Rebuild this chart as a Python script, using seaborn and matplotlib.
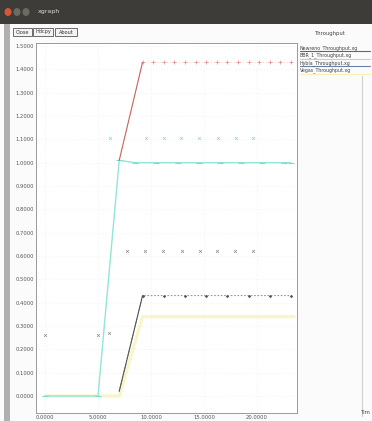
import matplotlib
matplotlib.use("Agg")
import matplotlib.pyplot as plt
from matplotlib.patches import Rectangle
import seaborn as sns

sns.set_theme(style="white")
plt.rcParams["font.family"] = ["DejaVu Sans"]

# ---- data (time in seconds, throughput) ----
newreno_t = [7.0, 9.2, 10.2, 11.2, 12.2, 13.2, 14.2, 15.2, 16.2, 17.2, 18.2, 19.2, 20.2, 21.2, 22.2, 23.2]
newreno_y = [1.01, 1.43, 1.43, 1.43, 1.43, 1.43, 1.43, 1.43, 1.43, 1.43, 1.43, 1.43, 1.43, 1.43, 1.43, 1.43]

bbr_t = [0.0, 5.0, 7.0, 8.5, 10.5, 12.5, 14.5, 16.5, 18.5, 20.5, 22.5, 23.2]
bbr_y = [0.0, 0.0, 1.01, 1.0, 1.0, 1.0, 1.0, 1.0, 1.0, 1.0, 1.0, 1.0]

hybla_t = [7.0, 9.2, 11.2, 13.2, 15.2, 17.2, 19.2, 21.2, 23.2]
hybla_y = [0.02, 0.43, 0.43, 0.43, 0.43, 0.43, 0.43, 0.43, 0.43]

vegas_t = [0.0, 7.0, 9.2, 11.2, 13.2, 15.2, 17.2, 19.2, 21.2, 23.5]
vegas_y = [0.0, 0.0, 0.34, 0.34, 0.34, 0.34, 0.34, 0.34, 0.34, 0.34]

probe_t = [0.0, 5.0, 6.0, 7.7, 9.4, 11.1, 12.9, 14.6, 16.2, 17.9, 19.6]
probe_y = [0.26, 0.26, 0.27, 0.62, 0.62, 0.62, 0.62, 0.62, 0.62, 0.62, 0.62]

peak_t = [6.1, 9.5, 11.2, 12.8, 14.5, 16.3, 18.0, 19.6]
peak_y = [1.105, 1.105, 1.105, 1.105, 1.105, 1.105, 1.105, 1.105]

x_ticks = [0.0, 5.0, 10.0, 15.0, 20.0]
y_ticks = [0.0, 0.1, 0.2, 0.3, 0.4, 0.5, 0.6, 0.7, 0.8, 0.9, 1.0, 1.1, 1.2, 1.3, 1.4, 1.5]
legend_names = ["Newreno_Throughput.xg", "BBR_1_Throughput.xg",
                "Hybla_Throughput.xg", "Vegas_Throughput.xg"]

W, H = 372, 421
fig = plt.figure(figsize=(W / 100, H / 100), dpi=100)
fig.patch.set_facecolor("#fbfbfb")


def px_rect(x0, y0, x1, y1, **kw):
    fig.patches.append(Rectangle((x0 / W, 1 - y1 / H), (x1 - x0) / W, (y1 - y0) / H,
                                 transform=fig.transFigure, **kw))


def px_text(x, y, s, **kw):
    fig.text(x / W, 1 - y / H, s, **kw)


# window title bar
px_rect(0, 0, W, 24, facecolor="#3d3c38", edgecolor="none")
for cx, col in [(8, "#d8553a"), (17, "#6d6a64"), (26, "#6d6a64")]:
    fig.patches.append(plt.Circle((cx / W, 1 - 12 / H), 3.5 / W, transform=fig.transFigure,
                                  facecolor=col, edgecolor="none"))
px_text(38, 12, "xgraph", color="#dcdcdc", fontsize=4.5, va="center")

# left window edge
px_rect(4, 24, 10, H, facecolor="#b0b0b0", edgecolor="none")

# buttons
for x0, x1, lab in [(13, 32, "Close"), (33, 53, "Hdcpy"), (55, 77, "About")]:
    px_rect(x0, 28, x1, 36, facecolor="#f4f4f4", edgecolor="#555555", linewidth=0.6)
    px_text((x0 + x1) / 2, 32, lab, fontsize=3.6, ha="center", va="center", color="#333333")

px_text(330, 33, "Throughput", fontsize=3.8, ha="center", va="center", color="#444444")

# right-hand frame line and cut-off axis name
fig.lines.append(plt.Line2D([362 / W, 362 / W], [1 - 76 / H, 1 - 416 / H],
                            transform=fig.transFigure, color="#cfcfcf", linewidth=0.8))
px_text(361, 413, "Tim", fontsize=3.8, va="center", color="#444444")

# plotting area
ax_l, ax_r, ax_t, ax_b = 36, 297, 43, 413
ax = fig.add_axes([ax_l / W, 1 - ax_b / H, (ax_r - ax_l) / W, (ax_b - ax_t) / H])
ax.set_facecolor("white")
ax.set_xlim(-0.85, 23.77)
ax.set_ylim(-0.073, 1.513)

ax.set_xticks(x_ticks)
ax.set_xticklabels([f"{v:.4f}" for v in x_ticks])
ax.set_yticks(y_ticks)
ax.set_yticklabels([f"{v:.4f}" for v in y_ticks])
ax.tick_params(axis="both", labelsize=3.8, colors="#555555", length=2, width=0.5,
               direction="in", pad=1.5)
ax.grid(True, linestyle=(0, (1, 3)), color="#e8e8e8", linewidth=0.5)
for sp in ax.spines.values():
    sp.set_color("#999999")
    sp.set_linewidth(0.7)

# series
sns.lineplot(x=vegas_t, y=vegas_y, ax=ax, color="#f5f2b8", linewidth=2.4, alpha=0.75,
             estimator=None, sort=False)
sns.lineplot(x=bbr_t, y=bbr_y, ax=ax, color="#8fe6da", linewidth=1.0,
             marker="_", markersize=4, markeredgecolor="#7fdacd", estimator=None, sort=False)
sns.lineplot(x=newreno_t, y=newreno_y, ax=ax, color="#e8a09b", linewidth=0.7,
             estimator=None, sort=False)
ax.lines[-1].set_linestyle((0, (0.5, 2.5)))
sns.lineplot(x=newreno_t[:2], y=newreno_y[:2], ax=ax, color="#c9645d", linewidth=0.8,
             estimator=None, sort=False)
sns.scatterplot(x=newreno_t[1:], y=newreno_y[1:], ax=ax, color="#dc8a84", marker="+",
                s=5, linewidth=0.5)
sns.lineplot(x=hybla_t, y=hybla_y, ax=ax, color="#777777", linewidth=0.6,
             estimator=None, sort=False)
ax.lines[-1].set_linestyle((0, (2.0, 2.0)))
sns.lineplot(x=hybla_t[:2], y=hybla_y[:2], ax=ax, color="#555555", linewidth=0.8,
             estimator=None, sort=False)
sns.scatterplot(x=hybla_t[1:], y=hybla_y[1:], ax=ax, color="#555555", marker="D",
                s=3, linewidth=0)
sns.scatterplot(x=probe_t, y=probe_y, ax=ax, color="#8a8a8a", marker="x", s=4, linewidth=0.5)
sns.scatterplot(x=peak_t, y=peak_y, ax=ax, color="#8fd8cf", marker="x", s=4, linewidth=0.5)

# legend column
legend_colors = ["#666666", "#8fe6da", "#6a7fa8", "#f5f2b8"]
for i, (name, col) in enumerate(zip(legend_names, legend_colors)):
    yy = 48 + i * 7.5
    fig.lines.append(plt.Line2D([300 / W, 370 / W], [1 - (yy + 3) / H, 1 - (yy + 3) / H],
                                transform=fig.transFigure, color=col, linewidth=0.8))
    px_text(300, yy, name, fontsize=3.4, va="center", color="#444444")

fig.savefig("out.png", dpi=100, facecolor=fig.get_facecolor())
